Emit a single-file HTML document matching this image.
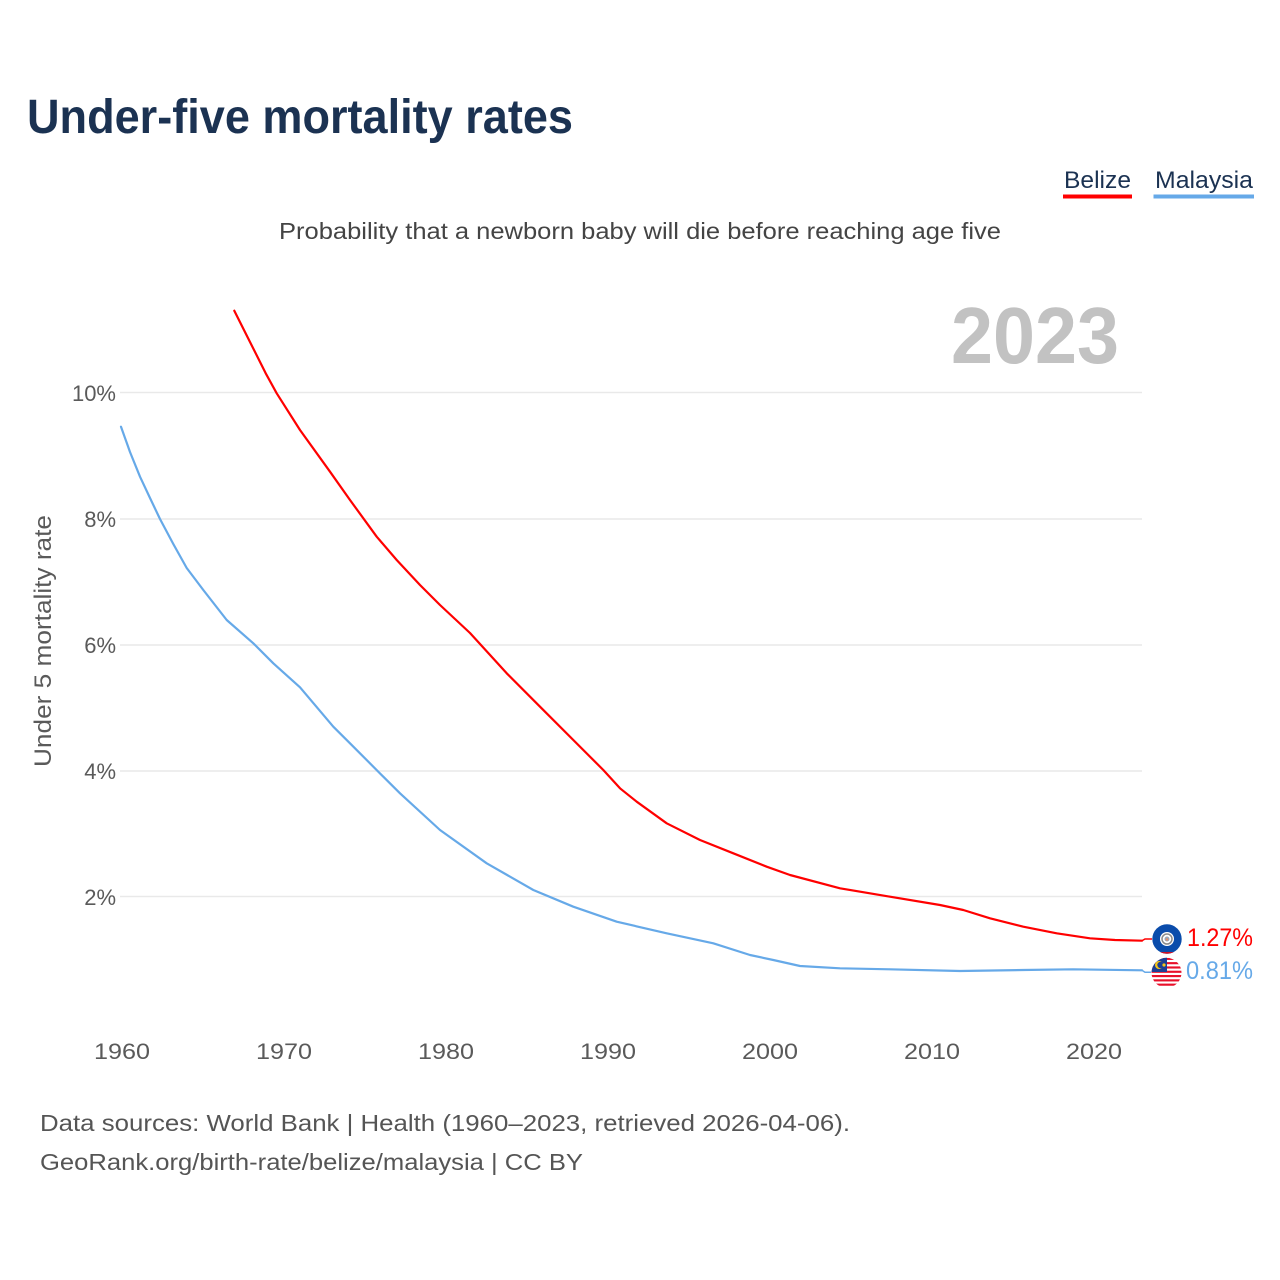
<!DOCTYPE html>
<html>
<head>
<meta charset="utf-8">
<style>
  html,body{margin:0;padding:0;background:#fff;}
  svg{display:block;}
  text{font-family:"Liberation Sans",sans-serif;}
</style>
</head>
<body>
<svg width="1280" height="1280" viewBox="0 0 1280 1280" xmlns="http://www.w3.org/2000/svg">
  <rect width="1280" height="1280" fill="#fff"/>
  <defs>
    <clipPath id="cb"><circle cx="1167" cy="939" r="14.7"/></clipPath>
    <clipPath id="cm"><circle cx="1166.5" cy="972.8" r="15"/></clipPath>
  </defs>

  <!-- Title -->
  <text x="27" y="133" font-size="48" font-weight="bold" fill="#1b3252" textLength="546" lengthAdjust="spacingAndGlyphs">Under-five mortality rates</text>

  <!-- Legend -->
  <text x="1064" y="188" font-size="24" fill="#1b3252" textLength="67" lengthAdjust="spacingAndGlyphs">Belize</text>
  <rect x="1063" y="194.5" width="69" height="4" fill="#ff0000"/>
  <text x="1155" y="188" font-size="24" fill="#1b3252" textLength="98" lengthAdjust="spacingAndGlyphs">Malaysia</text>
  <rect x="1153.5" y="194.5" width="100.5" height="4" fill="#66a9e8"/>

  <!-- Subtitle -->
  <text x="279" y="239" font-size="23" fill="#444" textLength="722" lengthAdjust="spacingAndGlyphs">Probability that a newborn baby will die before reaching age five</text>

  <!-- Year watermark -->
  <text x="951" y="363" font-size="80" font-weight="bold" fill="#c2c2c2" textLength="168" lengthAdjust="spacingAndGlyphs">2023</text>

  <!-- Gridlines -->
  <g stroke="#e9e9e9" stroke-width="1.5">
    <line x1="120" y1="392.5" x2="1142" y2="392.5"/>
    <line x1="120" y1="519" x2="1142" y2="519"/>
    <line x1="120" y1="645" x2="1142" y2="645"/>
    <line x1="120" y1="771" x2="1142" y2="771"/>
    <line x1="120" y1="896.5" x2="1142" y2="896.5"/>
  </g>

  <!-- Y tick labels -->
  <g font-size="22" fill="#5a5a5a" text-anchor="end">
    <text x="116" y="401">10%</text>
    <text x="116" y="527">8%</text>
    <text x="116" y="653">6%</text>
    <text x="116" y="779">4%</text>
    <text x="116" y="905">2%</text>
  </g>

  <!-- Y axis title -->
  <text transform="translate(51,641) rotate(-90)" text-anchor="middle" font-size="24" fill="#5a5a5a" textLength="252" lengthAdjust="spacingAndGlyphs">Under 5 mortality rate</text>

  <!-- X tick labels -->
  <g font-size="22" fill="#5a5a5a" text-anchor="middle">
    <text x="122" y="1059" textLength="56" lengthAdjust="spacingAndGlyphs">1960</text>
    <text x="284" y="1059" textLength="56" lengthAdjust="spacingAndGlyphs">1970</text>
    <text x="446" y="1059" textLength="56" lengthAdjust="spacingAndGlyphs">1980</text>
    <text x="608" y="1059" textLength="56" lengthAdjust="spacingAndGlyphs">1990</text>
    <text x="770" y="1059" textLength="56" lengthAdjust="spacingAndGlyphs">2000</text>
    <text x="932" y="1059" textLength="56" lengthAdjust="spacingAndGlyphs">2010</text>
    <text x="1094" y="1059" textLength="56" lengthAdjust="spacingAndGlyphs">2020</text>
  </g>

  <!-- Series: Malaysia -->
  <polyline fill="none" stroke="#66a9e8" stroke-width="2.2" stroke-linejoin="round" stroke-linecap="round"
    points="121,426.7 130,452 140,476.7 150,498 160,519 173.3,544 186.7,568 203.3,590 226.7,620 253.3,643.3 273.3,663.3 300,687.3 333.3,726.7 350,743.3 383.3,776.7 400,793.3 440,830 486.7,863.3 533.3,890 573.3,906.7 616.7,921.7 666.7,933.3 713.3,943.3 750,955 773.3,960 800,966 840,968.3 890,969.3 960,971 1023,970 1073,969.3 1142,970.3"/>
  <polyline fill="none" stroke="#66a9e8" stroke-width="1.5" points="1142,970.3 1145,972.3 1151,972.3"/>

  <!-- Series: Belize -->
  <polyline fill="none" stroke="#ff0000" stroke-width="2.2" stroke-linejoin="round" stroke-linecap="round"
    points="234.3,310.7 250,342 265.7,373.3 276.7,393.3 300,430 330,471.7 350,500 376.7,536.7 396.7,560 420,585 440,605 470,633 506.7,673.3 540,706.7 573.3,740 603.3,770 620,788.3 636.7,801.7 666.7,823.3 700,840 733.3,853.3 766.7,866.7 790,875 840,888.3 890,896.7 940,905 963.3,910 990,918.3 1023.3,926.7 1056.7,933.3 1090,938.3 1115,940 1142,940.7"/>
  <polyline fill="none" stroke="#ff0000" stroke-width="1.5" points="1142,940.7 1145,939 1152,939"/>

  <!-- Belize flag -->
  <g clip-path="url(#cb)">
    <rect x="1150" y="922" width="34" height="34" fill="#0a4cab"/>
    <rect x="1150" y="922" width="34" height="2" fill="#ce1126"/>
    <rect x="1150" y="952" width="34" height="4" fill="#ce1126"/>
    <circle cx="1167" cy="939" r="7" fill="#ffffff"/>
    <circle cx="1167" cy="939" r="5" fill="none" stroke="#8a8a8a" stroke-width="1.5"/>
    <circle cx="1167" cy="939" r="2.5" fill="#9aa7b8"/>
    <circle cx="1167" cy="939.5" r="1.2" fill="#e8906a"/>
  </g>

  <!-- Malaysia flag -->
  <g clip-path="url(#cm)">
    <rect x="1150" y="957" width="34" height="32" fill="#ffffff"/>
    <rect x="1150" y="957.8" width="34" height="2.15" fill="#e8102a"/>
    <rect x="1150" y="962.1" width="34" height="2.15" fill="#e8102a"/>
    <rect x="1150" y="966.4" width="34" height="2.15" fill="#e8102a"/>
    <rect x="1150" y="970.7" width="34" height="2.15" fill="#e8102a"/>
    <rect x="1150" y="975" width="34" height="2.15" fill="#e8102a"/>
    <rect x="1150" y="979.3" width="34" height="2.15" fill="#e8102a"/>
    <rect x="1150" y="983.6" width="34" height="2.15" fill="#e8102a"/>
    <rect x="1150" y="957" width="17" height="15" fill="#1c3f94"/>
    <circle cx="1159" cy="965" r="4" fill="#f5c518"/>
    <circle cx="1160.5" cy="965" r="3.2" fill="#1c3f94"/>
    <circle cx="1164" cy="965" r="1.6" fill="#f5c518"/>
  </g>

  <!-- Value labels -->
  <text x="1187" y="946" font-size="25" fill="#ff0000" textLength="66" lengthAdjust="spacingAndGlyphs">1.27%</text>
  <text x="1186" y="979" font-size="25" fill="#66a9e8" textLength="67" lengthAdjust="spacingAndGlyphs">0.81%</text>

  <!-- Footer -->
  <text x="40" y="1131" font-size="23" fill="#555" textLength="810" lengthAdjust="spacingAndGlyphs">Data sources: World Bank | Health (1960–2023, retrieved 2026-04-06).</text>
  <text x="40" y="1170" font-size="23" fill="#555" textLength="543" lengthAdjust="spacingAndGlyphs">GeoRank.org/birth-rate/belize/malaysia | CC BY</text>
</svg>
</body>
</html>
